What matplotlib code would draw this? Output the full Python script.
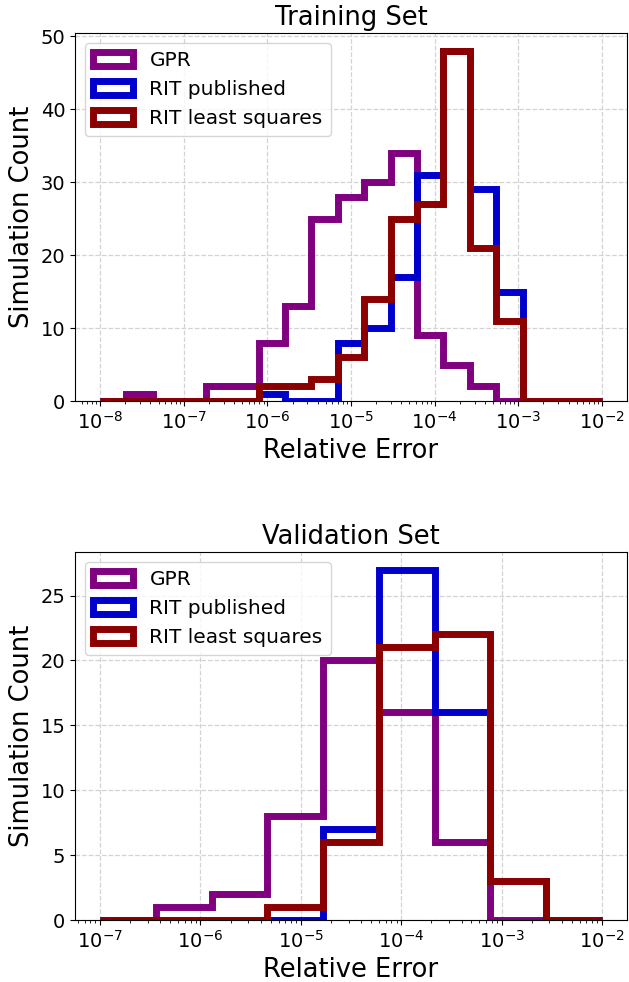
import matplotlib
matplotlib.use("Agg")
import matplotlib.pyplot as plt
import numpy as np

# bin edges (log spaced) for the two panels
train_edges = np.logspace(-8, -2, 20)
valid_edges = np.logspace(-7, -2, 10)

labels = ["GPR", "RIT published", "RIT least squares"]
colors = ["purple", "mediumblue", "darkred"]

# counts per bin, training set (19 bins)
train_gpr = [0, 1, 0, 0, 2, 2, 8, 13, 25, 28, 30, 34, 9, 5, 2, 0, 0, 0, 0]
train_rit_pub = [0, 0, 0, 0, 0, 0, 1, 0, 0, 8, 10, 17, 31, 48, 29, 15, 0, 0, 0]
train_rit_ls = [0, 0, 0, 0, 0, 0, 2, 2, 3, 6, 14, 25, 27, 48, 21, 11, 0, 0, 0]

# counts per bin, validation set (9 bins)
valid_gpr = [0, 1, 2, 8, 20, 16, 6, 0, 0]
valid_rit_pub = [0, 0, 0, 0, 7, 27, 16, 3, 0]
valid_rit_ls = [0, 0, 0, 1, 6, 21, 22, 3, 0]


def draw_panel(ax, edges, series, title):
    centers = np.sqrt(edges[:-1] * edges[1:])
    for counts, lab, col in zip(series, labels, colors):
        ax.hist(centers, bins=edges, weights=counts, histtype='step',
                color=col, lw=5, label=lab)
    ax.set_xscale('log')
    ax.grid(True, ls='--', color='lightgray', lw=0.9)
    ax.set_axisbelow(True)
    ax.set_title(title, fontsize=18.5)
    ax.set_xlabel('Relative Error', fontsize=18.5)
    ax.set_ylabel('Simulation Count', fontsize=18.5)
    ax.tick_params(labelsize=14)
    ax.legend(loc='upper left', fontsize=14.5)


fig = plt.figure(figsize=(6.29, 9.82), dpi=100)
ax1 = fig.add_axes([0.1192, 0.5916, 0.8776, 0.3747])
ax2 = fig.add_axes([0.1192, 0.0631, 0.8776, 0.3747])

draw_panel(ax1, train_edges, [train_gpr, train_rit_pub, train_rit_ls], 'Training Set')
draw_panel(ax2, valid_edges, [valid_gpr, valid_rit_pub, valid_rit_ls], 'Validation Set')

fig.savefig('out.png', dpi=100)
